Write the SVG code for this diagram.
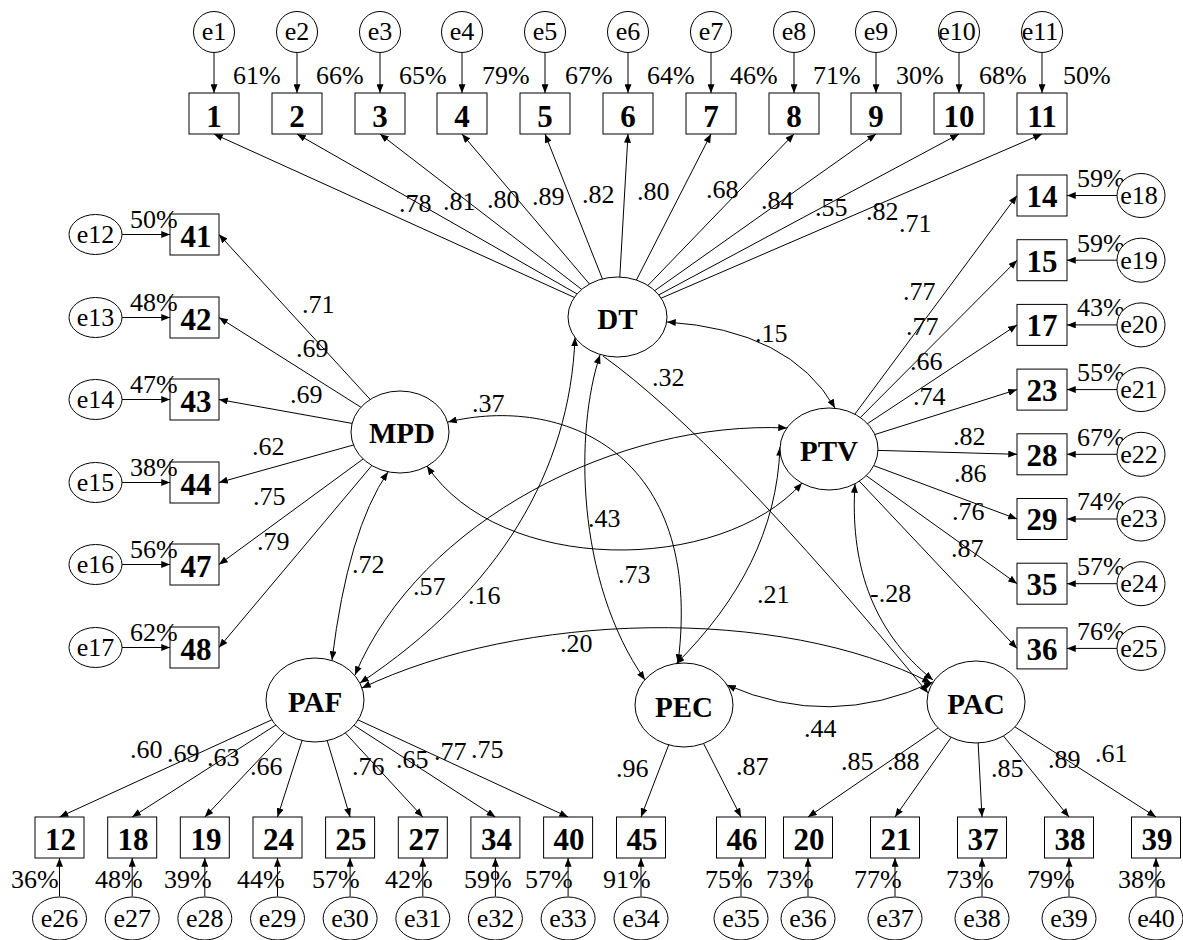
<svg xmlns="http://www.w3.org/2000/svg" width="1183" height="940" viewBox="0 0 1183 940">
<defs>
<marker id="ah" viewBox="0 0 10 8" refX="10" refY="4" markerWidth="9" markerHeight="7" markerUnits="userSpaceOnUse" orient="auto-start-reverse"><path d="M0,0 L10,4 L0,8 z" fill="#000"/></marker>
</defs>
<style>
.n{fill:#fff;stroke:#000;stroke-width:1}
.t{font-family:"Liberation Serif","Times New Roman",serif;font-size:26px;fill:#000}
.m{text-anchor:middle}
.b{font-family:"Liberation Serif","Times New Roman",serif;font-weight:bold;font-size:31px;text-anchor:middle;fill:#000}
.lv{font-size:29px}
.l{stroke:#000;stroke-width:1;fill:none;marker-end:url(#ah)}
.d{stroke:#000;stroke-width:1;fill:none;marker-start:url(#ah);marker-end:url(#ah)}
</style>
<rect width="1183" height="940" fill="#fff"/>
<g id="connectors">
<line class="l" x1="617.5" y1="317" x2="214" y2="134"/>
<line class="l" x1="617.5" y1="317" x2="297" y2="134"/>
<line class="l" x1="617.5" y1="317" x2="380" y2="134"/>
<line class="l" x1="617.5" y1="317" x2="462" y2="134"/>
<line class="l" x1="617.5" y1="317" x2="545" y2="134"/>
<line class="l" x1="617.5" y1="317" x2="628" y2="134"/>
<line class="l" x1="617.5" y1="317" x2="711" y2="134"/>
<line class="l" x1="617.5" y1="317" x2="794" y2="134"/>
<line class="l" x1="617.5" y1="317" x2="876" y2="134"/>
<line class="l" x1="617.5" y1="317" x2="959" y2="134"/>
<line class="l" x1="617.5" y1="317" x2="1042" y2="134"/>
<line class="l" x1="214" y1="52.5" x2="214" y2="93"/>
<line class="l" x1="297" y1="52.5" x2="297" y2="93"/>
<line class="l" x1="380" y1="52.5" x2="380" y2="93"/>
<line class="l" x1="462" y1="52.5" x2="462" y2="93"/>
<line class="l" x1="545" y1="52.5" x2="545" y2="93"/>
<line class="l" x1="628" y1="52.5" x2="628" y2="93"/>
<line class="l" x1="711" y1="52.5" x2="711" y2="93"/>
<line class="l" x1="794" y1="52.5" x2="794" y2="93"/>
<line class="l" x1="876" y1="52.5" x2="876" y2="93"/>
<line class="l" x1="959" y1="52.5" x2="959" y2="93"/>
<line class="l" x1="1042" y1="52.5" x2="1042" y2="93"/>
<line class="l" x1="400" y1="432" x2="219" y2="234.5"/>
<line class="l" x1="400" y1="432" x2="219" y2="317.5"/>
<line class="l" x1="400" y1="432" x2="219" y2="399.5"/>
<line class="l" x1="400" y1="432" x2="219" y2="482.5"/>
<line class="l" x1="400" y1="432" x2="219" y2="564.5"/>
<line class="l" x1="400" y1="432" x2="219" y2="647.5"/>
<line class="l" x1="122" y1="234.5" x2="170" y2="234.5"/>
<line class="l" x1="122" y1="317.5" x2="170" y2="317.5"/>
<line class="l" x1="122" y1="399.5" x2="170" y2="399.5"/>
<line class="l" x1="122" y1="482.5" x2="170" y2="482.5"/>
<line class="l" x1="122" y1="564.5" x2="170" y2="564.5"/>
<line class="l" x1="122" y1="647.5" x2="170" y2="647.5"/>
<line class="l" x1="829" y1="449" x2="1017" y2="195.5"/>
<line class="l" x1="829" y1="449" x2="1017" y2="260.2"/>
<line class="l" x1="829" y1="449" x2="1017" y2="324.9"/>
<line class="l" x1="829" y1="449" x2="1017" y2="389.6"/>
<line class="l" x1="829" y1="449" x2="1017" y2="454.3"/>
<line class="l" x1="829" y1="449" x2="1017" y2="519"/>
<line class="l" x1="829" y1="449" x2="1017" y2="583.7"/>
<line class="l" x1="829" y1="449" x2="1017" y2="648.4"/>
<line class="l" x1="1117" y1="195.5" x2="1067" y2="195.5"/>
<line class="l" x1="1117" y1="260.2" x2="1067" y2="260.2"/>
<line class="l" x1="1117" y1="324.9" x2="1067" y2="324.9"/>
<line class="l" x1="1117" y1="389.6" x2="1067" y2="389.6"/>
<line class="l" x1="1117" y1="454.3" x2="1067" y2="454.3"/>
<line class="l" x1="1117" y1="519" x2="1067" y2="519"/>
<line class="l" x1="1117" y1="583.7" x2="1067" y2="583.7"/>
<line class="l" x1="1117" y1="648.4" x2="1067" y2="648.4"/>
<line class="l" x1="315" y1="700" x2="59.5" y2="817"/>
<line class="l" x1="315" y1="700" x2="132.2" y2="817"/>
<line class="l" x1="315" y1="700" x2="204.8" y2="817"/>
<line class="l" x1="315" y1="700" x2="277.5" y2="817"/>
<line class="l" x1="315" y1="700" x2="350.1" y2="817"/>
<line class="l" x1="315" y1="700" x2="422.8" y2="817"/>
<line class="l" x1="315" y1="700" x2="495.4" y2="817"/>
<line class="l" x1="315" y1="700" x2="568.1" y2="817"/>
<line class="l" x1="684" y1="705" x2="641" y2="817"/>
<line class="l" x1="684" y1="705" x2="741" y2="817"/>
<line class="l" x1="976" y1="702" x2="808" y2="817"/>
<line class="l" x1="976" y1="702" x2="895" y2="817"/>
<line class="l" x1="976" y1="702" x2="982" y2="817"/>
<line class="l" x1="976" y1="702" x2="1069" y2="817"/>
<line class="l" x1="976" y1="702" x2="1156" y2="817"/>
<line class="l" x1="59.5" y1="896.5" x2="59.5" y2="858"/>
<line class="l" x1="132.2" y1="896.5" x2="132.2" y2="858"/>
<line class="l" x1="204.8" y1="896.5" x2="204.8" y2="858"/>
<line class="l" x1="277.5" y1="896.5" x2="277.5" y2="858"/>
<line class="l" x1="350.1" y1="896.5" x2="350.1" y2="858"/>
<line class="l" x1="422.8" y1="896.5" x2="422.8" y2="858"/>
<line class="l" x1="495.4" y1="896.5" x2="495.4" y2="858"/>
<line class="l" x1="568.1" y1="896.5" x2="568.1" y2="858"/>
<line class="l" x1="641" y1="896.5" x2="641" y2="858"/>
<line class="l" x1="741" y1="896.5" x2="741" y2="858"/>
<line class="l" x1="808" y1="896.5" x2="808" y2="858"/>
<line class="l" x1="895" y1="896.5" x2="895" y2="858"/>
<line class="l" x1="982" y1="896.5" x2="982" y2="858"/>
<line class="l" x1="1069" y1="896.5" x2="1069" y2="858"/>
<line class="l" x1="1156" y1="896.5" x2="1156" y2="858"/>
<path class="d" d="M667,322 Q790,330 835,408"/>
<path class="d" d="M448,422 C560,395 705,450 678,663"/>
<path class="d" d="M427,466 C500,575 720,575 802,483"/>
<path class="d" d="M575,337.5 C570,470 500,590 360,683"/>
<path class="d" d="M787,428 C620,420 420,520 355,675"/>
<path class="d" d="M388,472 Q348,530 332,660"/>
<path class="d" d="M362,688 C520,612 780,605 931,683"/>
<path class="d" d="M600,355 C575,430 575,580 645,680"/>
<path class="l" d="M603,356 Q720,440 928,693"/>
<path class="d" d="M780,447 C777,530 740,600 676,664"/>
<path class="d" d="M855,484 C850,560 870,630 933,680"/>
<path class="d" d="M727,685 Q830,730 933,682"/>
<g class="t">
<text x="399" y="212">.78</text><text x="443" y="210">.81</text><text x="487" y="208">.80</text><text x="532" y="205">.89</text><text x="582" y="203">.82</text><text x="637" y="200">.80</text><text x="706" y="198">.68</text><text x="761" y="209">.84</text><text x="815" y="216">.55</text><text x="866" y="220">.82</text><text x="899" y="232">.71</text>
<text x="302" y="313">.71</text><text x="296" y="357">.69</text><text x="290" y="403">.69</text><text x="252" y="455">.62</text><text x="253" y="505">.75</text><text x="257" y="550">.79</text>
<text x="903" y="300">.77</text><text x="906" y="335">.77</text><text x="910" y="370">.66</text><text x="913" y="405">.74</text><text x="953" y="445">.82</text><text x="954" y="482">.86</text><text x="952" y="520">.76</text><text x="951" y="557">.87</text>
<text x="130" y="758">.60</text><text x="167" y="762">.69</text><text x="207" y="766">.63</text><text x="250" y="775">.66</text><text x="352" y="775">.76</text><text x="396" y="768">.65</text><text x="434" y="760">.77</text><text x="471" y="758">.75</text>
<text x="616" y="777">.96</text><text x="736" y="775">.87</text>
<text x="841" y="770">.85</text><text x="887" y="770">.88</text><text x="991" y="777">.85</text><text x="1048" y="768">.89</text><text x="1095" y="762">.61</text>
<text x="755" y="342">.15</text><text x="652" y="386">.32</text><text x="472" y="412">.37</text><text x="588" y="527">.43</text><text x="618" y="583">.73</text><text x="468" y="604">.16</text><text x="413" y="595">.57</text><text x="352" y="573">.72</text><text x="560" y="652">.20</text><text x="757" y="603">.21</text><text x="870" y="602">-.28</text><text x="804" y="737">.44</text>
</g>
</g>
<g id="DT"><ellipse class="n" cx="617.5" cy="317" rx="49.5" ry="40"/><text class="b lv" x="617.5" y="329">DT</text></g>
<g id="MPD"><ellipse class="n" cx="400" cy="432" rx="49" ry="41"/><text class="b lv" x="402" y="443">MPD</text></g>
<g id="PTV"><ellipse class="n" cx="829" cy="449" rx="49" ry="41"/><text class="b lv" x="829" y="461">PTV</text></g>
<g id="PAF"><ellipse class="n" cx="315" cy="700" rx="49" ry="42"/><text class="b lv" x="315" y="712">PAF</text></g>
<g id="PEC"><ellipse class="n" cx="684" cy="705" rx="49" ry="42"/><text class="b lv" x="684" y="717">PEC</text></g>
<g id="PAC"><ellipse class="n" cx="976" cy="702" rx="49" ry="41"/><text class="b lv" x="976" y="714">PAC</text></g>
<g id="v1"><rect class="n" x="189" y="93" width="50" height="41"/><text class="b" x="214" y="127">1</text><text class="t" x="233" y="84">61%</text></g>
<g id="v2"><rect class="n" x="272" y="93" width="50" height="41"/><text class="b" x="297" y="127">2</text><text class="t" x="316" y="84">66%</text></g>
<g id="v3"><rect class="n" x="355" y="93" width="50" height="41"/><text class="b" x="380" y="127">3</text><text class="t" x="399" y="84">65%</text></g>
<g id="v4"><rect class="n" x="437" y="93" width="50" height="41"/><text class="b" x="462" y="127">4</text><text class="t" x="482" y="84">79%</text></g>
<g id="v5"><rect class="n" x="520" y="93" width="50" height="41"/><text class="b" x="545" y="127">5</text><text class="t" x="565" y="84">67%</text></g>
<g id="v6"><rect class="n" x="603" y="93" width="50" height="41"/><text class="b" x="628" y="127">6</text><text class="t" x="647" y="84">64%</text></g>
<g id="v7"><rect class="n" x="686" y="93" width="50" height="41"/><text class="b" x="711" y="127">7</text><text class="t" x="730" y="84">46%</text></g>
<g id="v8"><rect class="n" x="769" y="93" width="50" height="41"/><text class="b" x="794" y="127">8</text><text class="t" x="813" y="84">71%</text></g>
<g id="v9"><rect class="n" x="851" y="93" width="50" height="41"/><text class="b" x="876" y="127">9</text><text class="t" x="896" y="84">30%</text></g>
<g id="v10"><rect class="n" x="934" y="93" width="50" height="41"/><text class="b" x="959" y="127">10</text><text class="t" x="979" y="84">68%</text></g>
<g id="v11"><rect class="n" x="1017" y="93" width="50" height="41"/><text class="b" x="1042" y="127">11</text><text class="t" x="1063" y="84">50%</text></g>
<g class="t m">
<g id="e1"><circle class="n" cx="214" cy="32" r="20.5"/><text x="214" y="40">e1</text></g>
<g id="e2"><circle class="n" cx="297" cy="32" r="20.5"/><text x="297" y="40">e2</text></g>
<g id="e3"><circle class="n" cx="380" cy="32" r="20.5"/><text x="380" y="40">e3</text></g>
<g id="e4"><circle class="n" cx="462" cy="32" r="20.5"/><text x="462" y="40">e4</text></g>
<g id="e5"><circle class="n" cx="545" cy="32" r="20.5"/><text x="545" y="40">e5</text></g>
<g id="e6"><circle class="n" cx="628" cy="32" r="20.5"/><text x="628" y="40">e6</text></g>
<g id="e7"><circle class="n" cx="711" cy="32" r="20.5"/><text x="711" y="40">e7</text></g>
<g id="e8"><circle class="n" cx="794" cy="32" r="20.5"/><text x="794" y="40">e8</text></g>
<g id="e9"><circle class="n" cx="876" cy="32" r="20.5"/><text x="876" y="40">e9</text></g>
<g id="e10"><circle class="n" cx="959" cy="32" r="20.5"/><text x="957" y="40">e10</text></g>
<g id="e11"><circle class="n" cx="1042" cy="32" r="20.5"/><text x="1040" y="40">e11</text></g>
</g>
<g id="v41"><rect class="n" x="170" y="214" width="49" height="41"/><text class="b" x="196" y="247">41</text><text class="t" x="130" y="228">50%</text></g>
<g id="v42"><rect class="n" x="170" y="297" width="49" height="41"/><text class="b" x="196" y="330">42</text><text class="t" x="130" y="311">48%</text></g>
<g id="v43"><rect class="n" x="170" y="379" width="49" height="41"/><text class="b" x="196" y="412">43</text><text class="t" x="130" y="393">47%</text></g>
<g id="v44"><rect class="n" x="170" y="462" width="49" height="41"/><text class="b" x="196" y="495">44</text><text class="t" x="130" y="476">38%</text></g>
<g id="v47"><rect class="n" x="170" y="544" width="49" height="41"/><text class="b" x="196" y="577">47</text><text class="t" x="130" y="558">56%</text></g>
<g id="v48"><rect class="n" x="170" y="627" width="49" height="41"/><text class="b" x="196" y="660">48</text><text class="t" x="130" y="641">62%</text></g>
<g class="t m">
<g id="e12"><ellipse class="n" cx="95.5" cy="234.5" rx="26.5" ry="20"/><text x="95.5" y="243">e12</text></g>
<g id="e13"><ellipse class="n" cx="95.5" cy="317.5" rx="26.5" ry="20"/><text x="95.5" y="326">e13</text></g>
<g id="e14"><ellipse class="n" cx="95.5" cy="399.5" rx="26.5" ry="20"/><text x="95.5" y="408">e14</text></g>
<g id="e15"><ellipse class="n" cx="95.5" cy="482.5" rx="26.5" ry="20"/><text x="95.5" y="491">e15</text></g>
<g id="e16"><ellipse class="n" cx="95.5" cy="564.5" rx="26.5" ry="20"/><text x="95.5" y="573">e16</text></g>
<g id="e17"><ellipse class="n" cx="95.5" cy="647.5" rx="26.5" ry="20"/><text x="95.5" y="656">e17</text></g>
</g>
<g id="v14"><rect class="n" x="1017" y="175" width="50" height="41"/><text class="b" x="1042" y="207">14</text><text class="t" x="1077" y="187">59%</text></g>
<g id="v15"><rect class="n" x="1017" y="239.7" width="50" height="41"/><text class="b" x="1042" y="272">15</text><text class="t" x="1077" y="252">59%</text></g>
<g id="v17"><rect class="n" x="1017" y="304.4" width="50" height="41"/><text class="b" x="1042" y="336">17</text><text class="t" x="1077" y="316">43%</text></g>
<g id="v23"><rect class="n" x="1017" y="369.1" width="50" height="41"/><text class="b" x="1042" y="401">23</text><text class="t" x="1077" y="381">55%</text></g>
<g id="v28"><rect class="n" x="1017" y="433.8" width="50" height="41"/><text class="b" x="1042" y="466">28</text><text class="t" x="1077" y="446">67%</text></g>
<g id="v29"><rect class="n" x="1017" y="498.5" width="50" height="41"/><text class="b" x="1042" y="530">29</text><text class="t" x="1077" y="510">74%</text></g>
<g id="v35"><rect class="n" x="1017" y="563.2" width="50" height="41"/><text class="b" x="1042" y="595">35</text><text class="t" x="1077" y="575">57%</text></g>
<g id="v36"><rect class="n" x="1017" y="627.9" width="50" height="41"/><text class="b" x="1042" y="660">36</text><text class="t" x="1077" y="640">76%</text></g>
<g class="t m">
<g id="e18"><ellipse class="n" cx="1141" cy="195.5" rx="24" ry="22"/><text x="1139" y="204">e18</text></g>
<g id="e19"><ellipse class="n" cx="1141" cy="260.2" rx="24" ry="22"/><text x="1139" y="269">e19</text></g>
<g id="e20"><ellipse class="n" cx="1141" cy="324.9" rx="24" ry="22"/><text x="1139" y="333">e20</text></g>
<g id="e21"><ellipse class="n" cx="1141" cy="389.6" rx="24" ry="22"/><text x="1139" y="398">e21</text></g>
<g id="e22"><ellipse class="n" cx="1141" cy="454.3" rx="24" ry="22"/><text x="1139" y="463">e22</text></g>
<g id="e23"><ellipse class="n" cx="1141" cy="519" rx="24" ry="22"/><text x="1139" y="527">e23</text></g>
<g id="e24"><ellipse class="n" cx="1141" cy="583.7" rx="24" ry="22"/><text x="1139" y="592">e24</text></g>
<g id="e25"><ellipse class="n" cx="1141" cy="648.4" rx="24" ry="22"/><text x="1139" y="657">e25</text></g>
</g>
<g id="v12"><rect class="n" x="35" y="817" width="49" height="41"/><text class="b" x="60.5" y="850">12</text><text class="t" x="11" y="888">36%</text></g>
<g id="v18"><rect class="n" x="107.7" y="817" width="49" height="41"/><text class="b" x="133" y="850">18</text><text class="t" x="95" y="888">48%</text></g>
<g id="v19"><rect class="n" x="180.3" y="817" width="49" height="41"/><text class="b" x="206" y="850">19</text><text class="t" x="164" y="888">39%</text></g>
<g id="v24"><rect class="n" x="253" y="817" width="49" height="41"/><text class="b" x="278.5" y="850">24</text><text class="t" x="237" y="888">44%</text></g>
<g id="v25"><rect class="n" x="325.6" y="817" width="49" height="41"/><text class="b" x="351" y="850">25</text><text class="t" x="312" y="888">57%</text></g>
<g id="v27"><rect class="n" x="398.3" y="817" width="49" height="41"/><text class="b" x="424" y="850">27</text><text class="t" x="385" y="888">42%</text></g>
<g id="v34"><rect class="n" x="470.9" y="817" width="49" height="41"/><text class="b" x="496.5" y="850">34</text><text class="t" x="464" y="888">59%</text></g>
<g id="v40"><rect class="n" x="543.6" y="817" width="49" height="41"/><text class="b" x="569" y="850">40</text><text class="t" x="525" y="888">57%</text></g>
<g id="v45"><rect class="n" x="616.5" y="817" width="49" height="41"/><text class="b" x="642" y="850">45</text><text class="t" x="603" y="888">91%</text></g>
<g id="v46"><rect class="n" x="716.5" y="817" width="49" height="41"/><text class="b" x="742" y="850">46</text><text class="t" x="705" y="888">75%</text></g>
<g id="v20"><rect class="n" x="783.5" y="817" width="49" height="41"/><text class="b" x="809" y="850">20</text><text class="t" x="766" y="888">73%</text></g>
<g id="v21"><rect class="n" x="870.5" y="817" width="49" height="41"/><text class="b" x="896" y="850">21</text><text class="t" x="854" y="888">77%</text></g>
<g id="v37"><rect class="n" x="957.5" y="817" width="49" height="41"/><text class="b" x="983" y="850">37</text><text class="t" x="946" y="888">73%</text></g>
<g id="v38"><rect class="n" x="1044.5" y="817" width="49" height="41"/><text class="b" x="1070" y="850">38</text><text class="t" x="1027" y="888">79%</text></g>
<g id="v39"><rect class="n" x="1131.5" y="817" width="49" height="41"/><text class="b" x="1157" y="850">39</text><text class="t" x="1118" y="888">38%</text></g>
<g class="t m">
<g id="e26"><ellipse class="n" cx="59.5" cy="918.5" rx="27" ry="21.5"/><text x="59.5" y="927">e26</text></g>
<g id="e27"><ellipse class="n" cx="132.2" cy="918.5" rx="27" ry="21.5"/><text x="132.2" y="927">e27</text></g>
<g id="e28"><ellipse class="n" cx="204.8" cy="918.5" rx="27" ry="21.5"/><text x="204.8" y="927">e28</text></g>
<g id="e29"><ellipse class="n" cx="277.5" cy="918.5" rx="27" ry="21.5"/><text x="277.5" y="927">e29</text></g>
<g id="e30"><ellipse class="n" cx="350.1" cy="918.5" rx="27" ry="21.5"/><text x="350.1" y="927">e30</text></g>
<g id="e31"><ellipse class="n" cx="422.8" cy="918.5" rx="27" ry="21.5"/><text x="422.8" y="927">e31</text></g>
<g id="e32"><ellipse class="n" cx="495.4" cy="918.5" rx="27" ry="21.5"/><text x="495.4" y="927">e32</text></g>
<g id="e33"><ellipse class="n" cx="568.1" cy="918.5" rx="27" ry="21.5"/><text x="568.1" y="927">e33</text></g>
<g id="e34"><ellipse class="n" cx="641" cy="918.5" rx="27" ry="21.5"/><text x="641" y="927">e34</text></g>
<g id="e35"><ellipse class="n" cx="741" cy="918.5" rx="27" ry="21.5"/><text x="741" y="927">e35</text></g>
<g id="e36"><ellipse class="n" cx="808" cy="918.5" rx="27" ry="21.5"/><text x="808" y="927">e36</text></g>
<g id="e37"><ellipse class="n" cx="895" cy="918.5" rx="27" ry="21.5"/><text x="895" y="927">e37</text></g>
<g id="e38"><ellipse class="n" cx="982" cy="918.5" rx="27" ry="21.5"/><text x="982" y="927">e38</text></g>
<g id="e39"><ellipse class="n" cx="1069" cy="918.5" rx="27" ry="21.5"/><text x="1069" y="927">e39</text></g>
<g id="e40"><ellipse class="n" cx="1156" cy="918.5" rx="27" ry="21.5"/><text x="1156" y="927">e40</text></g>
</g>
</svg>
